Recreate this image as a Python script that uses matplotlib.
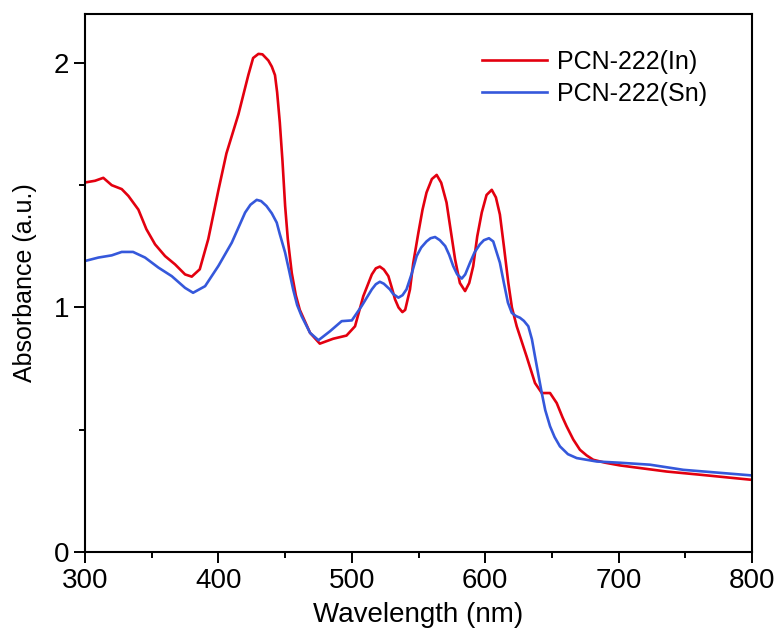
"""
Recreate UV-vis absorbance spectra of PCN-222(In) and PCN-222(Sn).
"""

import matplotlib
matplotlib.use("Agg")
import matplotlib.pyplot as plt
from matplotlib.ticker import MultipleLocator

# values
wl_in = [300, 307.5, 313.7, 320, 327.5, 332.5, 340, 346, 352.5, 360, 367.5, 375, 380,
         386, 392.4, 400, 406, 415, 422.4, 426, 430, 433, 437.4, 440, 442.4, 444, 446,
         448, 450, 452, 455, 458, 461, 468.7, 476, 486, 496, 502.4, 508.6, 515, 518,
         521, 524, 527.4, 530, 532.4, 535, 537.9, 540, 543.6, 546, 549.9, 553, 556,
         560, 563.6, 567, 571, 574, 577.4, 581, 584.9, 588, 591, 594, 597.4, 601,
         604.9, 608, 611, 614, 617.3, 620, 623.6, 631, 637.3, 642.4, 648.6, 653.6,
         658, 661, 666, 671, 676, 681, 690, 701, 736, 761, 800]
abs_in = [1.511, 1.518, 1.53, 1.50, 1.484, 1.456, 1.40, 1.32, 1.258, 1.21, 1.176, 1.135,
          1.126, 1.156, 1.28, 1.48, 1.63, 1.79, 1.95, 2.02, 2.037, 2.035, 2.01, 1.985,
          1.95, 1.88, 1.757, 1.60, 1.415, 1.28, 1.14, 1.05, 0.99, 0.896, 0.852, 0.872,
          0.885, 0.923, 1.046, 1.135, 1.16, 1.167, 1.155, 1.128, 1.08, 1.033, 1.0,
          0.981, 0.99, 1.074, 1.18, 1.306, 1.40, 1.47, 1.525, 1.542, 1.51, 1.429, 1.32,
          1.197, 1.10, 1.067, 1.10, 1.169, 1.29, 1.388, 1.46, 1.481, 1.45, 1.38, 1.25,
          1.101, 1.00, 0.923, 0.80, 0.691, 0.65, 0.65, 0.609, 0.55, 0.514, 0.46, 0.418,
          0.395, 0.377, 0.365, 0.354, 0.329, 0.316, 0.295]

wl_sn = [300, 310, 320, 327.5, 336, 345, 355, 365, 375, 381, 390, 400, 410, 420, 424,
         428.7, 432, 436, 440, 443.7, 446, 450, 453, 456, 459, 462.4, 468.7, 475, 483.7,
         492.4, 500, 507.4, 515, 518, 521, 524, 528.5, 531, 534.9, 538, 541, 545, 548.6,
         552, 556, 559, 562.4, 566, 570, 573, 576, 579, 582.4, 585, 588.6, 592, 596,
         599, 602.8, 606, 611, 614, 617, 619.9, 623, 626, 629, 632.3, 635, 637.3, 640,
         642.4, 645, 648.6, 652, 656, 662, 668.6, 683.6, 701, 723.5, 748.5, 800]
abs_sn = [1.19, 1.204, 1.213, 1.227, 1.227, 1.204, 1.163, 1.128, 1.08, 1.06, 1.087,
          1.17, 1.265, 1.388, 1.42, 1.44, 1.435, 1.415, 1.385, 1.347, 1.30, 1.224, 1.15,
          1.074, 1.01, 0.964, 0.896, 0.866, 0.903, 0.944, 0.947, 1.006, 1.074, 1.095,
          1.105, 1.097, 1.074, 1.055, 1.04, 1.05, 1.074, 1.14, 1.21, 1.245, 1.27, 1.283,
          1.288, 1.275, 1.251, 1.215, 1.169, 1.135, 1.118, 1.135, 1.183, 1.225, 1.258,
          1.275, 1.283, 1.27, 1.183, 1.10, 1.02, 0.978, 0.965, 0.958, 0.945, 0.923, 0.87,
          0.80, 0.72, 0.65, 0.58, 0.514, 0.47, 0.432, 0.40, 0.384, 0.37, 0.365, 0.357,
          0.336, 0.313]

labels = ["PCN-222(In)", "PCN-222(Sn)"]
colors = ["#E3000F", "#3558DB"]

plt.rcParams["font.family"] = ["Liberation Sans", "DejaVu Sans"]

fig = plt.figure(figsize=(7.78, 6.42), dpi=100)
ax = fig.add_axes([0.1093, 0.1402, 0.9666 - 0.1093, 0.9782 - 0.1402])

ax.plot(wl_in, abs_in, color=colors[0], lw=1.9, label=labels[0])
ax.plot(wl_sn, abs_sn, color=colors[1], lw=1.9, label=labels[1])

ax.set_xlim(300, 800)
ax.set_ylim(0, 2.2)
ax.xaxis.set_major_locator(MultipleLocator(100))
ax.xaxis.set_minor_locator(MultipleLocator(50))
ax.yaxis.set_major_locator(MultipleLocator(1))
ax.yaxis.set_minor_locator(MultipleLocator(0.5))

ax.tick_params(which="major", direction="out", length=8, width=1.4, labelsize=20,
               top=False, right=False)
ax.tick_params(which="minor", direction="out", length=4, width=1.4,
               top=False, right=False)
for s in ax.spines.values():
    s.set_linewidth(1.5)

ax.set_xlabel("Wavelength (nm)", fontsize=20, labelpad=6)
ax.set_ylabel("Absorbance (a.u.)", fontsize=18, labelpad=12)

ax.legend(loc="upper right", frameon=False, fontsize=18, handlelength=2.6,
          handletextpad=0.4, labelspacing=0.33, borderaxespad=0.6,
          bbox_to_anchor=(0.97, 0.98))

fig.savefig("out.png", dpi=100)
plt.close(fig)
